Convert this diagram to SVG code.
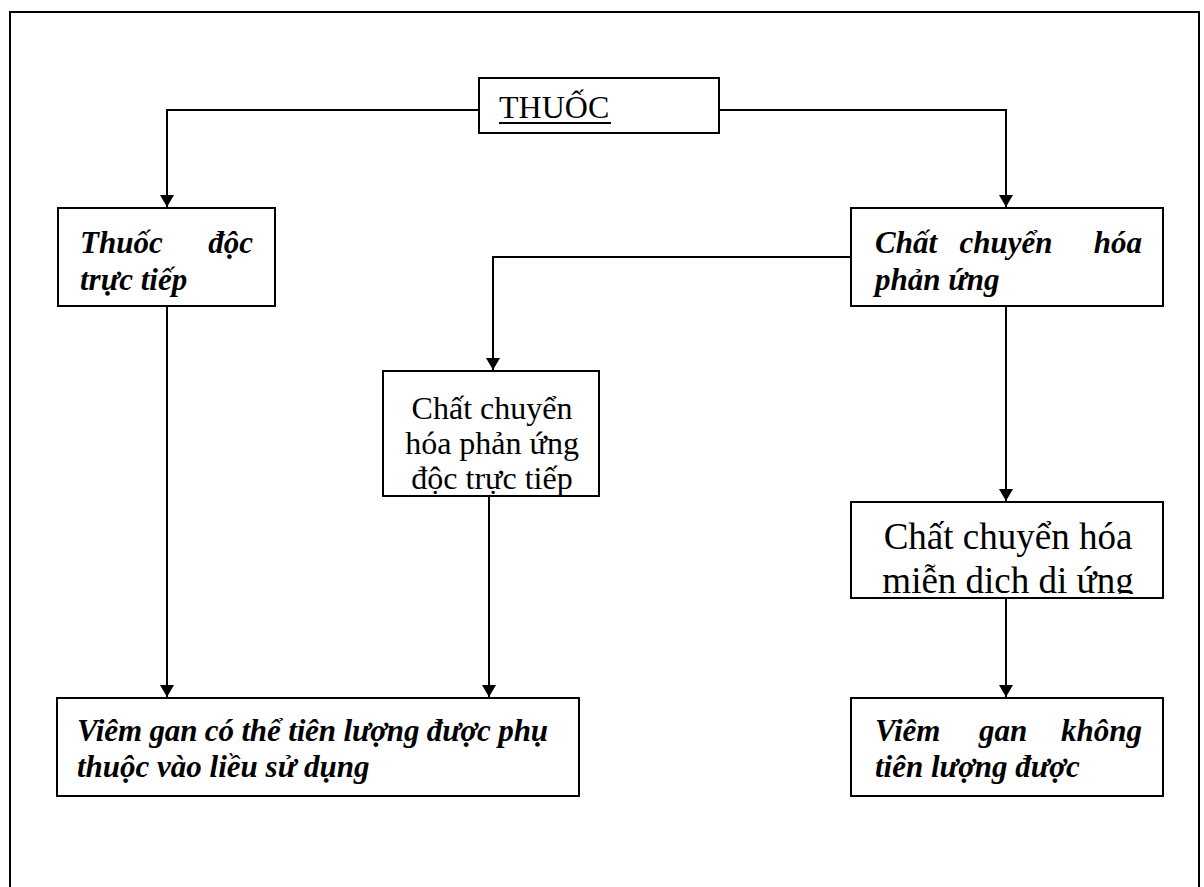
<svg xmlns="http://www.w3.org/2000/svg" width="1204" height="887" viewBox="0 0 1204 887">
<style>
.box{fill:#fff;stroke:#000;stroke-width:2}
.frame{fill:none;stroke:#000;stroke-width:2}
.conn{fill:none;stroke:#000;stroke-width:2}
.bi{font-family:"Liberation Serif","Times New Roman",serif;font-weight:bold;font-style:italic;font-size:31px;fill:#000}
.rg{font-family:"Liberation Serif","Times New Roman",serif;font-size:32px;fill:#000}
.big{font-family:"Liberation Serif","Times New Roman",serif;font-size:37px;fill:#000}
</style>
<defs>
<marker id="arr" viewBox="0 0 12 14" refX="12" refY="7" markerWidth="12" markerHeight="14" markerUnits="userSpaceOnUse" orient="auto">
<path d="M0,0 L12,7 L0,14 Z" fill="#000"/>
</marker>
<clipPath id="clipMd"><rect x="851" y="502" width="312" height="92"/></clipPath>
</defs>
<rect width="1204" height="887" fill="#fff"/>
<path class="frame" d="M10,900 L10,12 L1199,12 L1199,900"/>
<g id="connectors">
<path class="conn" d="M479,110 L167,110 L167,207" marker-end="url(#arr)"/>
<path class="conn" d="M719,110 L1006,110 L1006,207" marker-end="url(#arr)"/>
<path class="conn" d="M851,257 L493,257 L493,370" marker-end="url(#arr)"/>
<path class="conn" d="M1006,306 L1006,501" marker-end="url(#arr)"/>
<path class="conn" d="M1006,598 L1006,697" marker-end="url(#arr)"/>
<path class="conn" d="M167,306 L167,697" marker-end="url(#arr)"/>
<path class="conn" d="M489,496 L489,697" marker-end="url(#arr)"/>
</g>
<g id="node-thuoc">
<rect class="box" x="479" y="78" width="240" height="55"/>
<text class="rg" x="499" y="118">THUỐC</text>
<line x1="499" y1="123" x2="611" y2="123" stroke="#000" stroke-width="2"/>
</g>
<g id="node-thuoc-doc">
<rect class="box" x="58" y="208" width="217" height="98"/>
<text class="bi" x="80" y="253">Thuốc</text>
<text class="bi" x="253" y="253" text-anchor="end">độc</text>
<text class="bi" x="80" y="290">trực tiếp</text>
</g>
<g id="node-chat-chuyen-hoa">
<rect class="box" x="851" y="208" width="312" height="98"/>
<text class="bi" x="875" y="253">Chất</text>
<text class="bi" x="1006" y="253" text-anchor="middle">chuyển</text>
<text class="bi" x="1142" y="253" text-anchor="end">hóa</text>
<text class="bi" x="875" y="290">phản ứng</text>
</g>
<g id="node-doc-truc-tiep">
<rect class="box" x="383" y="371" width="216" height="125"/>
<text class="rg" x="492" y="419" text-anchor="middle">Chất chuyển</text>
<text class="rg" x="492" y="454" text-anchor="middle">hóa phản ứng</text>
<text class="rg" x="492" y="489" text-anchor="middle">độc trực tiếp</text>
</g>
<g id="node-mien-dich">
<rect class="box" x="851" y="502" width="312" height="96"/>
<g clip-path="url(#clipMd)">
<text class="big" x="1008" y="549" text-anchor="middle">Chất chuyển hóa</text>
<text class="big" x="1008" y="593" text-anchor="middle">miễn dich di ứng</text>
</g>
</g>
<g id="node-viem-gan-tien-luong">
<rect class="box" x="57" y="698" width="522" height="98"/>
<text class="bi" x="77" y="741" textLength="471" lengthAdjust="spacing">Viêm gan có thể tiên lượng được phụ</text>
<text class="bi" x="77" y="777">thuộc vào liều sử dụng</text>
</g>
<g id="node-viem-gan-khong">
<rect class="box" x="851" y="698" width="312" height="98"/>
<text class="bi" x="875" y="741">Viêm</text>
<text class="bi" x="1003" y="741" text-anchor="middle">gan</text>
<text class="bi" x="1142" y="741" text-anchor="end">không</text>
<text class="bi" x="875" y="777">tiên lượng được</text>
</g>
</svg>
